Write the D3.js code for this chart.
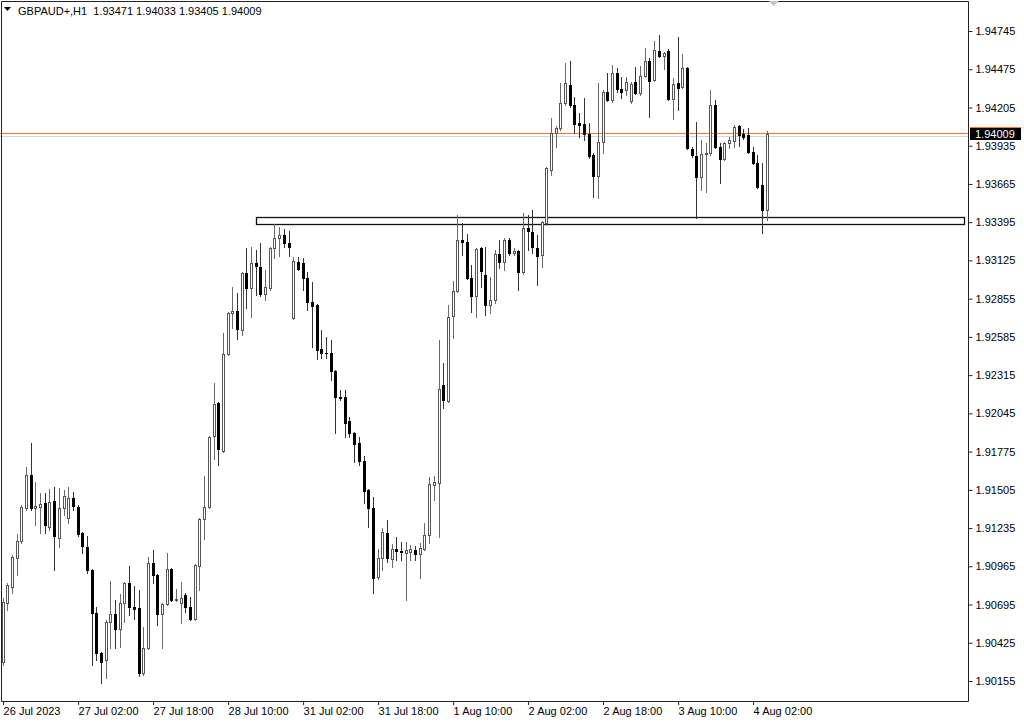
<!DOCTYPE html>
<html><head><meta charset="utf-8">
<script src="https://cdn.jsdelivr.net/npm/d3@7"></script>
<style>html,body{margin:0;padding:0;background:#fff;}svg{display:block;font-family:"Liberation Sans",Arial,sans-serif;}</style>
</head><body>
<svg id="c" width="1024" height="722"></svg>
<script>
const symbol = "GBPAUD+,H1";
const timeLabels = ["26 Jul 2023","27 Jul 02:00","27 Jul 18:00","28 Jul 10:00","31 Jul 02:00","31 Jul 18:00","1 Aug 10:00","2 Aug 02:00","2 Aug 18:00","3 Aug 10:00","4 Aug 02:00"];
const timeLabelBars = [0,16,32,48,64,80,96,112,128,144,160];
const priceTicks = [1.94745,1.94475,1.94205,1.93935,1.93665,1.93395,1.93125,1.92855,1.92585,1.92315,1.92045,1.91775,1.91505,1.91235,1.90965,1.90695,1.90425,1.90155];
const open = [1.90283,1.90700,1.90813,1.91018,1.91138,1.91371,1.91604,1.91371,1.91378,1.91406,1.91236,1.91420,1.91159,1.91371,1.91300,1.91441,1.91378,1.91194,1.91095,1.90933,
1.90629,1.90347,1.90297,1.90566,1.90622,1.90516,1.90700,1.90841,1.90672,1.90665,1.90206,1.90382,1.90982,1.90898,1.90622,1.90693,1.90940,1.90721,1.90700,1.90756,
1.90672,1.90587,1.90961,1.91293,1.91378,1.91879,1.92112,1.91773,1.92458,1.92747,1.92761,1.92627,1.93030,1.92924,1.93100,1.93072,1.92881,1.92924,1.93206,1.93277,
1.93298,1.93241,1.92712,1.93107,1.93100,1.92994,1.92825,1.92804,1.92493,1.92465,1.92462,1.92338,1.92154,1.92154,1.91985,1.91900,1.91829,1.91702,1.91498,1.91371,
1.90883,1.91018,1.91194,1.91011,1.91081,1.91067,1.91053,1.91060,1.91074,1.91046,1.91081,1.91180,1.91533,1.91547,1.92239,1.92126,1.92726,1.92903,1.93263,1.93248,
1.92994,1.92867,1.93206,1.93016,1.92804,1.92839,1.93164,1.93107,1.93263,1.93171,1.93185,1.93037,1.93347,1.93319,1.93206,1.93157,1.93383,1.93757,1.94018,1.94053,
1.94230,1.94357,1.94216,1.94089,1.94082,1.94011,1.93863,1.93714,1.93954,1.94307,1.94251,1.94442,1.94329,1.94322,1.94244,1.94378,1.94300,1.94420,1.94526,1.94392,
1.94597,1.94562,1.94597,1.94258,1.94371,1.94343,1.94477,1.93905,1.93856,1.93707,1.93870,1.93877,1.94216,1.93919,1.93835,1.93947,1.93962,1.94067,1.94011,1.94004,
1.93884,1.93806,1.93651,1.93471];
const high = [1.90735,1.90841,1.91039,1.91187,1.91392,1.91660,1.91829,1.91554,1.91476,1.91476,1.91505,1.91519,1.91512,1.91498,1.91519,1.91484,1.91392,1.91201,1.91173,1.90940,
1.90672,1.90354,1.90580,1.90855,1.90721,1.90763,1.90848,1.90961,1.90820,1.90792,1.90530,1.91025,1.91074,1.90905,1.90700,1.91053,1.90947,1.90799,1.90848,1.90770,
1.90742,1.90975,1.91300,1.91596,1.91879,1.92253,1.92119,1.92606,1.92754,1.92931,1.92888,1.93037,1.93206,1.93213,1.93192,1.93241,1.93051,1.93213,1.93376,1.93354,
1.93340,1.93326,1.93143,1.93143,1.93136,1.93037,1.92966,1.92811,1.92627,1.92578,1.92557,1.92345,1.92204,1.92204,1.92013,1.91907,1.91872,1.91738,1.91505,1.91448,
1.91081,1.91229,1.91286,1.91116,1.91166,1.91130,1.91130,1.91109,1.91102,1.91123,1.91265,1.91589,1.91596,1.92557,1.92394,1.92804,1.92973,1.93439,1.93383,1.93305,
1.93086,1.93206,1.93213,1.93213,1.93001,1.93192,1.93263,1.93277,1.93277,1.93206,1.93192,1.93453,1.93439,1.93474,1.93298,1.93397,1.93778,1.94124,1.94067,1.94371,
1.94512,1.94526,1.94272,1.94159,1.94265,1.94089,1.93877,1.94371,1.94322,1.94442,1.94498,1.94477,1.94413,1.94413,1.94378,1.94484,1.94491,1.94618,1.94548,1.94668,
1.94710,1.94590,1.94611,1.94406,1.94696,1.94576,1.94484,1.93919,1.94096,1.93969,1.93947,1.94322,1.94251,1.93947,1.93954,1.93990,1.94075,1.94075,1.94046,1.94053,
1.93919,1.93863,1.93806,1.94033];
const low = [1.90262,1.90650,1.90770,1.90898,1.91123,1.91356,1.91356,1.91251,1.91194,1.91194,1.91215,1.90933,1.91095,1.91321,1.91265,1.91356,1.91173,1.91053,1.90912,1.90262,
1.90297,1.90135,1.90170,1.90382,1.90382,1.90389,1.90566,1.90615,1.90587,1.90184,1.90191,1.90375,1.90841,1.90545,1.90382,1.90686,1.90714,1.90714,1.90559,1.90636,
1.90580,1.90580,1.90792,1.91152,1.91371,1.91716,1.91674,1.91766,1.92451,1.92641,1.92564,1.92592,1.92783,1.92719,1.92874,1.92867,1.92839,1.92910,1.93136,1.93150,
1.93213,1.93150,1.92705,1.93051,1.92910,1.92768,1.92507,1.92422,1.92429,1.92429,1.92274,1.91900,1.92133,1.91872,1.91872,1.91695,1.91674,1.91406,1.91236,1.90770,
1.90869,1.90933,1.90989,1.90954,1.91004,1.91004,1.90721,1.91004,1.91004,1.90876,1.91074,1.91123,1.91427,1.91166,1.92077,1.92119,1.92571,1.92896,1.93157,1.92987,
1.92754,1.92719,1.92931,1.92733,1.92747,1.92818,1.93065,1.93051,1.93157,1.93157,1.92910,1.93023,1.93192,1.93171,1.92945,1.93072,1.93369,1.93722,1.93919,1.94039,
1.94216,1.94202,1.94018,1.93990,1.93969,1.93842,1.93566,1.93559,1.93877,1.94244,1.94237,1.94307,1.94265,1.94286,1.94230,1.94293,1.94286,1.94413,1.94131,1.94385,
1.94555,1.94470,1.94251,1.94117,1.94180,1.94336,1.93905,1.93849,1.93418,1.93616,1.93602,1.93863,1.93912,1.93665,1.93828,1.93912,1.93919,1.93926,1.93976,1.93877,
1.93799,1.93630,1.93312,1.93405];
const close = [1.90707,1.90827,1.91025,1.91138,1.91378,1.91604,1.91371,1.91385,1.91399,1.91251,1.91413,1.91173,1.91371,1.91455,1.91441,1.91385,1.91187,1.91102,1.90933,1.90629,
1.90347,1.90283,1.90566,1.90622,1.90516,1.90700,1.90841,1.90672,1.90658,1.90206,1.90382,1.90982,1.90898,1.90622,1.90693,1.90940,1.90721,1.90728,1.90735,1.90672,
1.90587,1.90968,1.91293,1.91378,1.91872,1.92105,1.91787,1.92458,1.92747,1.92761,1.92634,1.93030,1.92924,1.93100,1.93079,1.92881,1.92931,1.93206,1.93277,1.93298,
1.93241,1.93213,1.93114,1.93058,1.92994,1.92825,1.92797,1.92486,1.92465,1.92462,1.92338,1.92154,1.92147,1.91971,1.91900,1.91822,1.91702,1.91491,1.91371,1.90876,
1.91018,1.91201,1.91018,1.91081,1.91067,1.91060,1.91074,1.91081,1.91046,1.91088,1.91180,1.91540,1.91554,1.92211,1.92133,1.92719,1.92903,1.93263,1.93248,1.92994,
1.92867,1.93199,1.93044,1.92804,1.92839,1.93164,1.93107,1.93263,1.93171,1.93185,1.93037,1.93347,1.93326,1.93213,1.93150,1.93390,1.93771,1.94018,1.94053,1.94230,
1.94371,1.94216,1.94082,1.94075,1.94011,1.93856,1.93714,1.93954,1.94307,1.94251,1.94442,1.94329,1.94307,1.94378,1.94364,1.94300,1.94420,1.94526,1.94385,1.94604,
1.94562,1.94583,1.94258,1.94364,1.94336,1.94477,1.93912,1.93863,1.93707,1.93870,1.93877,1.94216,1.93919,1.93835,1.93947,1.93969,1.94060,1.94004,1.93990,1.93884,
1.93806,1.93637,1.93471,1.94009];
// drawn rectangle object (bar index range and price range)
const zoneBars = [54, 205];
const zonePrices = [1.93425, 1.93376];
const bidPrice = 1.94009;
const askLinePrice = 1.93995;

const W = 1024, H = 722;
const plotRight = 968, plotBottom = 701;
const svg = d3.select("#c");
svg.append("rect").attr("width", W).attr("height", H).attr("fill", "#fff");

const x = d3.scaleLinear().domain([0, 160]).range([2.6, 752.6]);
const y = d3.scaleLinear().domain([1.90155, 1.94745]).range([680, 30]);

// zone rectangle (behind candles)
svg.append("rect")
  .attr("x", Math.round(x(zoneBars[0])) + 0.5)
  .attr("y", Math.round(y(zonePrices[0])) + 0.5)
  .attr("width", Math.round(x(zoneBars[1])) - Math.round(x(zoneBars[0])))
  .attr("height", Math.round(y(zonePrices[1])) - Math.round(y(zonePrices[0])))
  .attr("fill", "none").attr("stroke", "#111").attr("stroke-width", 1.3);

// grey line & bid line
svg.append("line").attr("x1", 0).attr("x2", plotRight)
  .attr("y1", Math.round(y(askLinePrice)) + 0.5).attr("y2", Math.round(y(askLinePrice)) + 0.5)
  .attr("stroke", "#d6d6d6").attr("stroke-width", 1);
svg.append("line").attr("x1", 0).attr("x2", plotRight)
  .attr("y1", Math.round(y(bidPrice)) - 0.5).attr("y2", Math.round(y(bidPrice)) - 0.5)
  .attr("stroke", "#ff7033").attr("stroke-width", 1);

// candles
const bars = open.map((o, i) => ({i, o, h: high[i], l: low[i], c: close[i]}));
const g = svg.append("g");
bars.forEach(d => {
  const cx = Math.round(x(d.i));
  const bull = d.c >= d.o;
  g.append("line").attr("x1", cx + 0.5).attr("x2", cx + 0.5)
    .attr("y1", Math.round(y(d.h))).attr("y2", Math.round(y(d.l)) + 1)
    .attr("stroke", bull ? "#6a6a6a" : "#333").attr("stroke-width", 1);
  const top = Math.round(y(Math.max(d.o, d.c)));
  const bot = Math.round(y(Math.min(d.o, d.c)));
  if (bot - top < 1) {
    g.append("line").attr("x1", cx - 1).attr("x2", cx + 2)
      .attr("y1", top + 0.5).attr("y2", top + 0.5)
      .attr("stroke", bull ? "#555" : "#000").attr("stroke-width", 1);
  } else {
    g.append("rect").attr("x", cx - 0.5).attr("y", top + 0.5)
      .attr("width", 2).attr("height", bot - top)
      .attr("fill", bull ? "#fff" : "#000")
      .attr("stroke", bull ? "#555" : "#000").attr("stroke-width", 1);
  }
});

// frame
svg.append("path")
  .attr("d", `M1.5,${plotBottom + 0.5}V1.5H${plotRight + 0.5}V${plotBottom + 0.5}H1.5`)
  .attr("fill", "none").attr("stroke", "#222").attr("stroke-width", 1);

// price axis
const yAxis = d3.axisRight(y).tickValues(priceTicks).tickSize(4).tickPadding(3)
  .tickFormat(d3.format(".5f"));
const ya = svg.append("g").attr("transform", `translate(${plotRight + 0.5},1)`).call(yAxis);
ya.select(".domain").remove();
ya.selectAll("line").attr("stroke", "#222");
ya.selectAll("text").attr("font-size", 11).attr("fill", "#000")
  .attr("font-family", '"Liberation Sans",Arial,sans-serif');

// time axis
const xAxis = d3.axisBottom(x).tickValues(timeLabelBars).tickSize(4).tickPadding(2)
  .tickFormat((d, i) => timeLabels[i]);
const xa = svg.append("g").attr("transform", `translate(0.5,${plotBottom})`).call(xAxis);
xa.select(".domain").remove();
xa.selectAll("line").attr("stroke", "#222");
xa.selectAll("text").attr("font-size", 11).attr("fill", "#000").attr("text-anchor", "start")
  .attr("x", 0).attr("font-family", '"Liberation Sans",Arial,sans-serif');

// current price label
const by = Math.round(y(bidPrice));
svg.append("rect").attr("x", plotRight + 2).attr("y", by - 7).attr("width", 51).attr("height", 13).attr("fill", "#000");
svg.append("line").attr("x1", plotRight + 2).attr("x2", plotRight + 53).attr("y1", by - 6.5).attr("y2", by - 6.5).attr("stroke", "#ff7033");
svg.append("text").attr("x", plotRight + 7).attr("y", by + 4).attr("font-size", 11).attr("fill", "#fff")
  .text(d3.format(".5f")(bidPrice));

// shift marker
const sx = x(164.5);
svg.append("path").attr("d", `M${sx - 5},1L${sx + 5},1L${sx},6Z`).attr("fill", "#c4c4c4");

// title
svg.append("path").attr("d", "M4,7L11,7L7.5,11Z").attr("fill", "#000");
const last = open.length - 1;
svg.append("text").attr("x", 18).attr("y", 15).attr("font-size", 11).attr("fill", "#000")
  .attr("xml:space", "preserve").style("white-space", "pre")
  .text(`${symbol}  ${open[last].toFixed(5)} ${high[last].toFixed(5)} ${low[last].toFixed(5)} ${close[last].toFixed(5)}`);
</script>
</body></html>
